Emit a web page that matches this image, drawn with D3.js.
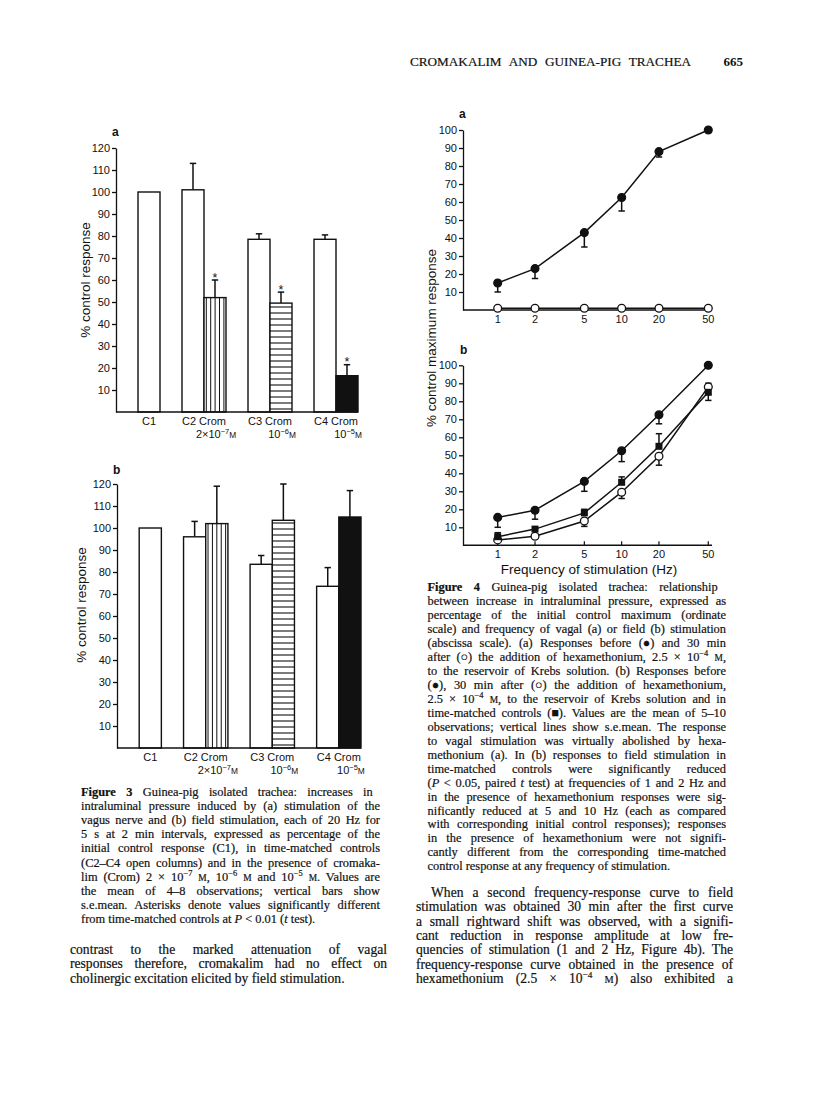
<!DOCTYPE html>
<html>
<head>
<meta charset="utf-8">
<script src="https://cdn.jsdelivr.net/npm/d3@7"></script>
<style>
body { margin: 0; background: #fff; }
</style>
</head>
<body>
<div class="viz"></div>
<script>
// ---- Figure 3 data (% control response) ----
var groups3 = ["C1", "C2", "C3", "C4"];
var doseMant = ["2×10", "10", "10"];
var doseExp = ["−7", "−6", "−5"];

var fig3aOpen = [100, 101, 78.5, 78.5];
var fig3aOpenErr = [null, 113, 81, 80.5];
var fig3aCrom = [52, 49.5, 16.5];
var fig3aCromErr = [60, 54.5, 21.5];
var fig3aStar = [true, true, true];

var fig3bOpen = [100, 96, 83.5, 73.5];
var fig3bOpenErr = [null, 103, 87.5, 82];
var fig3bCrom = [102, 103.5, 105];
var fig3bCromErr = [119, 120, 117];
var fig3bStar = [false, false, false];

var yTicks3 = d3.range(10, 121, 10);

// ---- Figure 4 data (% control maximum response) ----
var freqs = [1, 2, 5, 10, 20, 50];
var yTicks4 = d3.range(10, 101, 10);

var fig4aBefore = [15, 23, 43, 62.5, 88, 100];
var fig4aBeforeErr = [10, 17.5, 35, 55, 85, null];
var fig4aAfter = [1, 1, 1, 1, 1, 1];
var fig4aAfterErr = [null, null, null, null, null, null];

var fig4bBefore = [15.5, 19.5, 35.5, 52.5, 72.5, 100];
var fig4bBeforeErr = [10, 14.5, 30, 46.5, 67.5, null];
var fig4bControl = [4.8, 9, 18, 35, 55, 85];
var fig4bControlErr = [7, null, 20, 38, 62, 80.5];
var fig4bAfter = [3, 5, 13.5, 29.5, 49.5, 88];
var fig4bAfterErr = [null, null, 10.5, 26, 44.5, 90];

// ---- page text ----
var header = "CROMAKALIM AND GUINEA-PIG TRACHEA";
var pageNo = "665";

var fig3Caption = [
    "**Figure 3**  Guinea-pig isolated trachea: increases in",
    "intraluminal pressure induced by (a) stimulation of the",
    "vagus nerve and (b) field stimulation, each of 20 Hz for",
    "5 s at 2 min intervals, expressed as percentage of the",
    "initial control response (C1), in time-matched controls",
    "(C2–C4 open columns) and in the presence of cromaka-",
    "lim (Crom) 2 × 10^{−7} {M}, 10^{−6} {M} and 10^{−5} {M}. Values are",
    "the mean of 4–8 observations; vertical bars show",
    "s.e.mean. Asterisks denote values significantly different",
    "from time-matched controls at _P_ < 0.01 (_t_ test)."
];

var fig4Caption = [
    "**Figure 4**  Guinea-pig isolated trachea: relationship",
    "between increase in intraluminal pressure, expressed as",
    "percentage of the initial control maximum (ordinate",
    "scale) and frequency of vagal (a) or field (b) stimulation",
    "(abscissa scale). (a) Responses before (●) and 30 min",
    "after (○) the addition of hexamethonium, 2.5 × 10^{−4} {M},",
    "to the reservoir of Krebs solution. (b) Responses before",
    "(●), 30 min after (○) the addition of hexamethonium,",
    "2.5 × 10^{−4} {M}, to the reservoir of Krebs solution and in",
    "time-matched controls (■). Values are the mean of 5–10",
    "observations; vertical lines show s.e.mean. The response",
    "to vagal stimulation was virtually abolished by hexa-",
    "methonium (a). In (b) responses to field stimulation in",
    "time-matched controls were significantly reduced",
    "(_P_ < 0.05, paired _t_ test) at frequencies of 1 and 2 Hz and",
    "in the presence of hexamethonium responses were sig-",
    "nificantly reduced at 5 and 10 Hz (each as compared",
    "with corresponding initial control responses); responses",
    "in the presence of hexamethonium were not signifi-",
    "cantly different from the corresponding time-matched",
    "control response at any frequency of stimulation."
];

var bodyLeft = [
    "contrast to the marked attenuation of vagal",
    "responses therefore, cromakalim had no effect on",
    "cholinergic excitation elicited by field stimulation."
];

var bodyRight = [
    "When a second frequency-response curve to field",
    "stimulation was obtained 30 min after the first curve",
    "a small rightward shift was observed, with a signifi-",
    "cant reduction in response amplitude at low fre-",
    "quencies of stimulation (1 and 2 Hz, Figure 4b). The",
    "frequency-response curve obtained in the presence of",
    "hexamethonium (2.5 × 10^{−4} {M}) also exhibited a"
];

var fontSans = "'Liberation Sans', Arial, Helvetica, sans-serif";
var fontSerif = "'Liberation Serif', 'Times New Roman', Times, serif";
var ink = "#111";

var svg = d3.select(".viz").append("svg")
    .attr("width", 816)
    .attr("height", 1112)
    .style("background", "#fff");

// small markup: **bold**, ^{sup}, {M} small capital M, _italic_
function richText(parent, str, o) {
    var size = o.size;
    var t = parent.append("text")
        .attr("x", o.x)
        .attr("y", o.y)
        .attr("font-family", o.font || fontSerif)
        .attr("font-size", size)
        .attr("fill", ink)
        .attr("text-anchor", o.anchor || "start");
    if (!o.font) t.attr("stroke", ink).attr("stroke-width", 0.2);
    var parts = str.split(/(\*\*[^*]+\*\*|\^\{[^}]+\}|\{M\}|_[^_ ]+_)/).filter(function(s) { return s.length; });
    var back = 0;
    parts.forEach(function(p) {
        var ts = t.append("tspan");
        if (back) { ts.attr("dy", back); back = 0; }
        if (p.slice(0, 2) == "**") {
            ts.text(p.slice(2, -2)).attr("font-weight", "bold");
        } else if (p.slice(0, 2) == "^{") {
            var sh = size * 0.38;
            ts.text(p.slice(2, -1)).attr("font-size", size * 0.68).attr("dy", -sh);
            back = sh;
        } else if (p == "{M}") {
            ts.text("M").attr("font-size", size * 0.76);
        } else if (p[0] == "_" && p.length > 2) {
            ts.text(p.slice(1, -1)).attr("font-style", "italic");
        } else {
            ts.text(p);
        }
    });
    if (o.width) {
        var w = t.node().getComputedTextLength();
        var n = (t.text().match(/ /g) || []).length;
        var ws = n ? (o.width - w) / n : 0;
        if (ws < -2.5) {
            t.attr("textLength", o.width).attr("lengthAdjust", "spacing");
        } else if (n) {
            t.attr("word-spacing", ws);
        }
    }
    return t;
}

function textBlock(lines, x, y0, step, size, width, lastFull, indent) {
    lines.forEach(function(line, i) {
        var last = i == lines.length - 1;
        var ix = (i == 0 && indent) ? indent : 0;
        richText(svg, line, {
            x: x + ix, y: y0 + i * step, size: size,
            width: (last && !lastFull) ? null : width - ix
        });
    });
}

// ---- running head ----
richText(svg, header, { x: 410, y: 66, size: 13.2, width: 281 });
svg.append("text")
    .attr("x", 743).attr("y", 66)
    .attr("text-anchor", "end")
    .attr("font-family", fontSerif)
    .attr("font-weight", "bold")
    .attr("font-size", 13)
    .attr("fill", ink)
    .text(pageNo);

function styleAxis(g, size) {
    g.selectAll("path, line").attr("stroke", ink).attr("stroke-width", 1.3);
    g.selectAll("text")
        .attr("font-family", fontSans)
        .attr("font-size", size)
        .attr("fill", ink);
}

// ---- Figure 3 bar panels ----
function barPanel(p) {
    var slots = d3.range(11);
    var x = d3.scaleBand().domain(slots).range([p.left, p.right]);
    var y = d3.scaleLinear().domain([0, 120]).range([p.base, p.base - 264]);
    var bw = x.bandwidth();
    var g = svg.append("g");

    var openSlot = [1, 3, 6, 9];
    var cromSlot = [4, 7, 10];

    function errBar(cx, v, e) {
        if (e == null) return;
        g.append("line")
            .attr("x1", cx).attr("x2", cx)
            .attr("y1", y(v)).attr("y2", y(e))
            .attr("stroke", ink).attr("stroke-width", 1.5);
        g.append("line")
            .attr("x1", cx - 3.2).attr("x2", cx + 3.2)
            .attr("y1", y(e)).attr("y2", y(e))
            .attr("stroke", ink).attr("stroke-width", 1.5);
    }

    // open (control) columns
    p.open.forEach(function(v, i) {
        var x0 = x(openSlot[i]);
        errBar(x0 + bw / 2, v, p.openErr[i]);
        g.append("rect")
            .attr("x", x0).attr("y", y(v))
            .attr("width", bw).attr("height", y(0) - y(v))
            .attr("fill", "#fff").attr("stroke", ink).attr("stroke-width", 1.4);
    });

    // cromakalim columns: vertical stripes, horizontal stripes, solid
    p.crom.forEach(function(v, i) {
        var x0 = x(cromSlot[i]);
        var top = y(v);
        errBar(x0 + bw / 2, v, p.cromErr[i]);
        g.append("rect")
            .attr("x", x0).attr("y", top)
            .attr("width", bw).attr("height", y(0) - top)
            .attr("fill", i == 2 ? ink : "#fff");
        if (i == 0) {
            d3.range(x0 + 2.3, x0 + bw - 1, 4.4).forEach(function(sx) {
                g.append("line")
                    .attr("x1", sx).attr("x2", sx).attr("y1", top).attr("y2", y(0))
                    .attr("stroke", ink).attr("stroke-width", 1);
            });
        } else if (i == 1) {
            d3.range(y(0) - 3, top, -6).forEach(function(sy) {
                g.append("line")
                    .attr("x1", x0).attr("x2", x0 + bw).attr("y1", sy).attr("y2", sy)
                    .attr("stroke", ink).attr("stroke-width", 1.1);
            });
        }
        g.append("rect")
            .attr("x", x0).attr("y", top)
            .attr("width", bw).attr("height", y(0) - top)
            .attr("fill", "none").attr("stroke", ink).attr("stroke-width", 1.4);
        if (p.star[i]) {
            g.append("text")
                .attr("x", x0 + bw / 2).attr("y", y(p.cromErr[i]) + 1.5)
                .attr("text-anchor", "middle")
                .attr("font-family", fontSans).attr("font-size", 12.5)
                .attr("fill", ink)
                .text("*");
        }
    });

    // axes
    var ya = g.append("g")
        .attr("transform", "translate(" + p.left + ",0)")
        .call(d3.axisLeft(y).tickValues(yTicks3).tickSize(4).tickSizeOuter(0).tickPadding(2));
    styleAxis(ya, 11);
    g.append("line")
        .attr("x1", p.left).attr("x2", p.right)
        .attr("y1", y(0)).attr("y2", y(0))
        .attr("stroke", ink).attr("stroke-width", 1.4);

    // category labels
    groups3.forEach(function(c, i) {
        var cx = i == 0 ? x(1) + bw / 2 : x(cromSlot[i - 1]);
        svg.append("text")
            .attr("x", cx).attr("y", p.labelY)
            .attr("text-anchor", "middle")
            .attr("font-family", fontSans).attr("font-size", 11)
            .attr("fill", ink)
            .text(i == 0 ? c : c + " Crom");
        if (i > 0) {
            richText(svg, doseMant[i - 1] + "^{" + doseExp[i - 1] + "}{M}", {
                x: x(cromSlot[i - 1]) + bw / 2 + 1, y: p.labelY + 13,
                size: 11, font: fontSans, anchor: "middle"
            });
        }
    });

    svg.append("text")
        .attr("x", p.letter[0]).attr("y", p.letter[1])
        .attr("font-family", fontSans).attr("font-weight", "bold")
        .attr("font-size", 12).attr("fill", ink)
        .text(p.name);

    svg.append("text")
        .attr("transform", "translate(" + p.title[0] + "," + p.title[1] + ") rotate(-90)")
        .attr("text-anchor", "middle")
        .attr("font-family", fontSans).attr("font-size", 13.5)
        .attr("fill", ink)
        .text("% control response");
}

barPanel({
    name: "a", left: 116, right: 358, base: 412, labelY: 425,
    letter: [112, 136], title: [90, 280],
    open: fig3aOpen, openErr: fig3aOpenErr,
    crom: fig3aCrom, cromErr: fig3aCromErr, star: fig3aStar
});
barPanel({
    name: "b", left: 117, right: 361, base: 748, labelY: 761,
    letter: [113, 474], title: [86, 605],
    open: fig3bOpen, openErr: fig3bOpenErr,
    crom: fig3bCrom, cromErr: fig3bCromErr, star: fig3bStar
});

// ---- Figure 4 line panels ----
function linePanel(p) {
    var x = d3.scaleLog().domain([1, 50]).range([497.7, 708.3]);
    var y = d3.scaleLinear().domain([0, 100]).range([p.base, p.base - 180]);
    var g = svg.append("g");
    var line = d3.line()
        .x(function(d) { return x(d[0]); })
        .y(function(d) { return y(d[1]); });

    var ya = g.append("g")
        .attr("transform", "translate(463,0)")
        .call(d3.axisLeft(y).tickValues(yTicks4).tickSize(4).tickSizeOuter(0).tickPadding(2));
    styleAxis(ya, 11);
    g.append("line")
        .attr("x1", 463).attr("x2", 712)
        .attr("y1", y(0)).attr("y2", y(0))
        .attr("stroke", ink).attr("stroke-width", 1.4);
    freqs.forEach(function(f) {
        g.append("line")
            .attr("x1", x(f)).attr("x2", x(f))
            .attr("y1", y(0)).attr("y2", y(0) - 4)
            .attr("stroke", ink).attr("stroke-width", 1.2);
        g.append("text")
            .attr("x", x(f)).attr("y", y(0) + 13)
            .attr("text-anchor", "middle")
            .attr("font-family", fontSans).attr("font-size", 11)
            .attr("fill", ink)
            .text(f);
    });

    p.series.forEach(function(s) {
        s.err.forEach(function(e, i) {
            if (e == null) return;
            var cx = x(freqs[i]);
            g.append("line")
                .attr("x1", cx).attr("x2", cx)
                .attr("y1", y(s.values[i])).attr("y2", y(e))
                .attr("stroke", ink).attr("stroke-width", 1.5);
            g.append("line")
                .attr("x1", cx - 3.2).attr("x2", cx + 3.2)
                .attr("y1", y(e)).attr("y2", y(e))
                .attr("stroke", ink).attr("stroke-width", 1.5);
        });
        g.append("path")
            .attr("d", line(freqs.map(function(f, i) { return [f, s.values[i]]; })))
            .attr("fill", "none").attr("stroke", ink).attr("stroke-width", 1.5);
    });

    p.series.forEach(function(s) {
        s.values.forEach(function(v, i) {
            var cx = x(freqs[i]), cy = y(v);
            if (s.marker == "square") {
                g.append("rect")
                    .attr("x", cx - 3.5).attr("y", cy - 3.5)
                    .attr("width", 7).attr("height", 7)
                    .attr("fill", ink);
            } else {
                g.append("circle")
                    .attr("cx", cx).attr("cy", cy).attr("r", 3.9)
                    .attr("fill", s.marker == "open" ? "#fff" : ink)
                    .attr("stroke", ink).attr("stroke-width", 1.3);
            }
        });
    });

    svg.append("text")
        .attr("x", p.letter[0]).attr("y", p.letter[1])
        .attr("font-family", fontSans).attr("font-weight", "bold")
        .attr("font-size", 12).attr("fill", ink)
        .text(p.name);
}

linePanel({
    name: "a", base: 310, letter: [459, 118],
    series: [
        { values: fig4aAfter, err: fig4aAfterErr, marker: "open" },
        { values: fig4aBefore, err: fig4aBeforeErr, marker: "closed" }
    ]
});
linePanel({
    name: "b", base: 545.3, letter: [460, 354],
    series: [
        { values: fig4bAfter, err: fig4bAfterErr, marker: "open" },
        { values: fig4bControl, err: fig4bControlErr, marker: "square" },
        { values: fig4bBefore, err: fig4bBeforeErr, marker: "closed" }
    ]
});

svg.append("text")
    .attr("transform", "translate(436,338) rotate(-90)")
    .attr("text-anchor", "middle")
    .attr("font-family", fontSans).attr("font-size", 13.5)
    .attr("fill", ink)
    .text("% control maximum response");

svg.append("text")
    .attr("x", 589).attr("y", 573.5)
    .attr("text-anchor", "middle")
    .attr("font-family", fontSans).attr("font-size", 13.5)
    .attr("fill", ink)
    .text("Frequency of stimulation (Hz)");

// ---- captions and body text ----
textBlock(fig3Caption, 81, 796, 14.1, 12.4, 299, false);
textBlock(fig4Caption, 427.5, 591, 13.97, 12.4, 298.5, false);
textBlock(bodyLeft, 70, 954, 14.3, 13.6, 317, false);
textBlock(bodyRight, 416, 897, 14.3, 13.6, 317, true, 15);
</script>
</body>
</html>
